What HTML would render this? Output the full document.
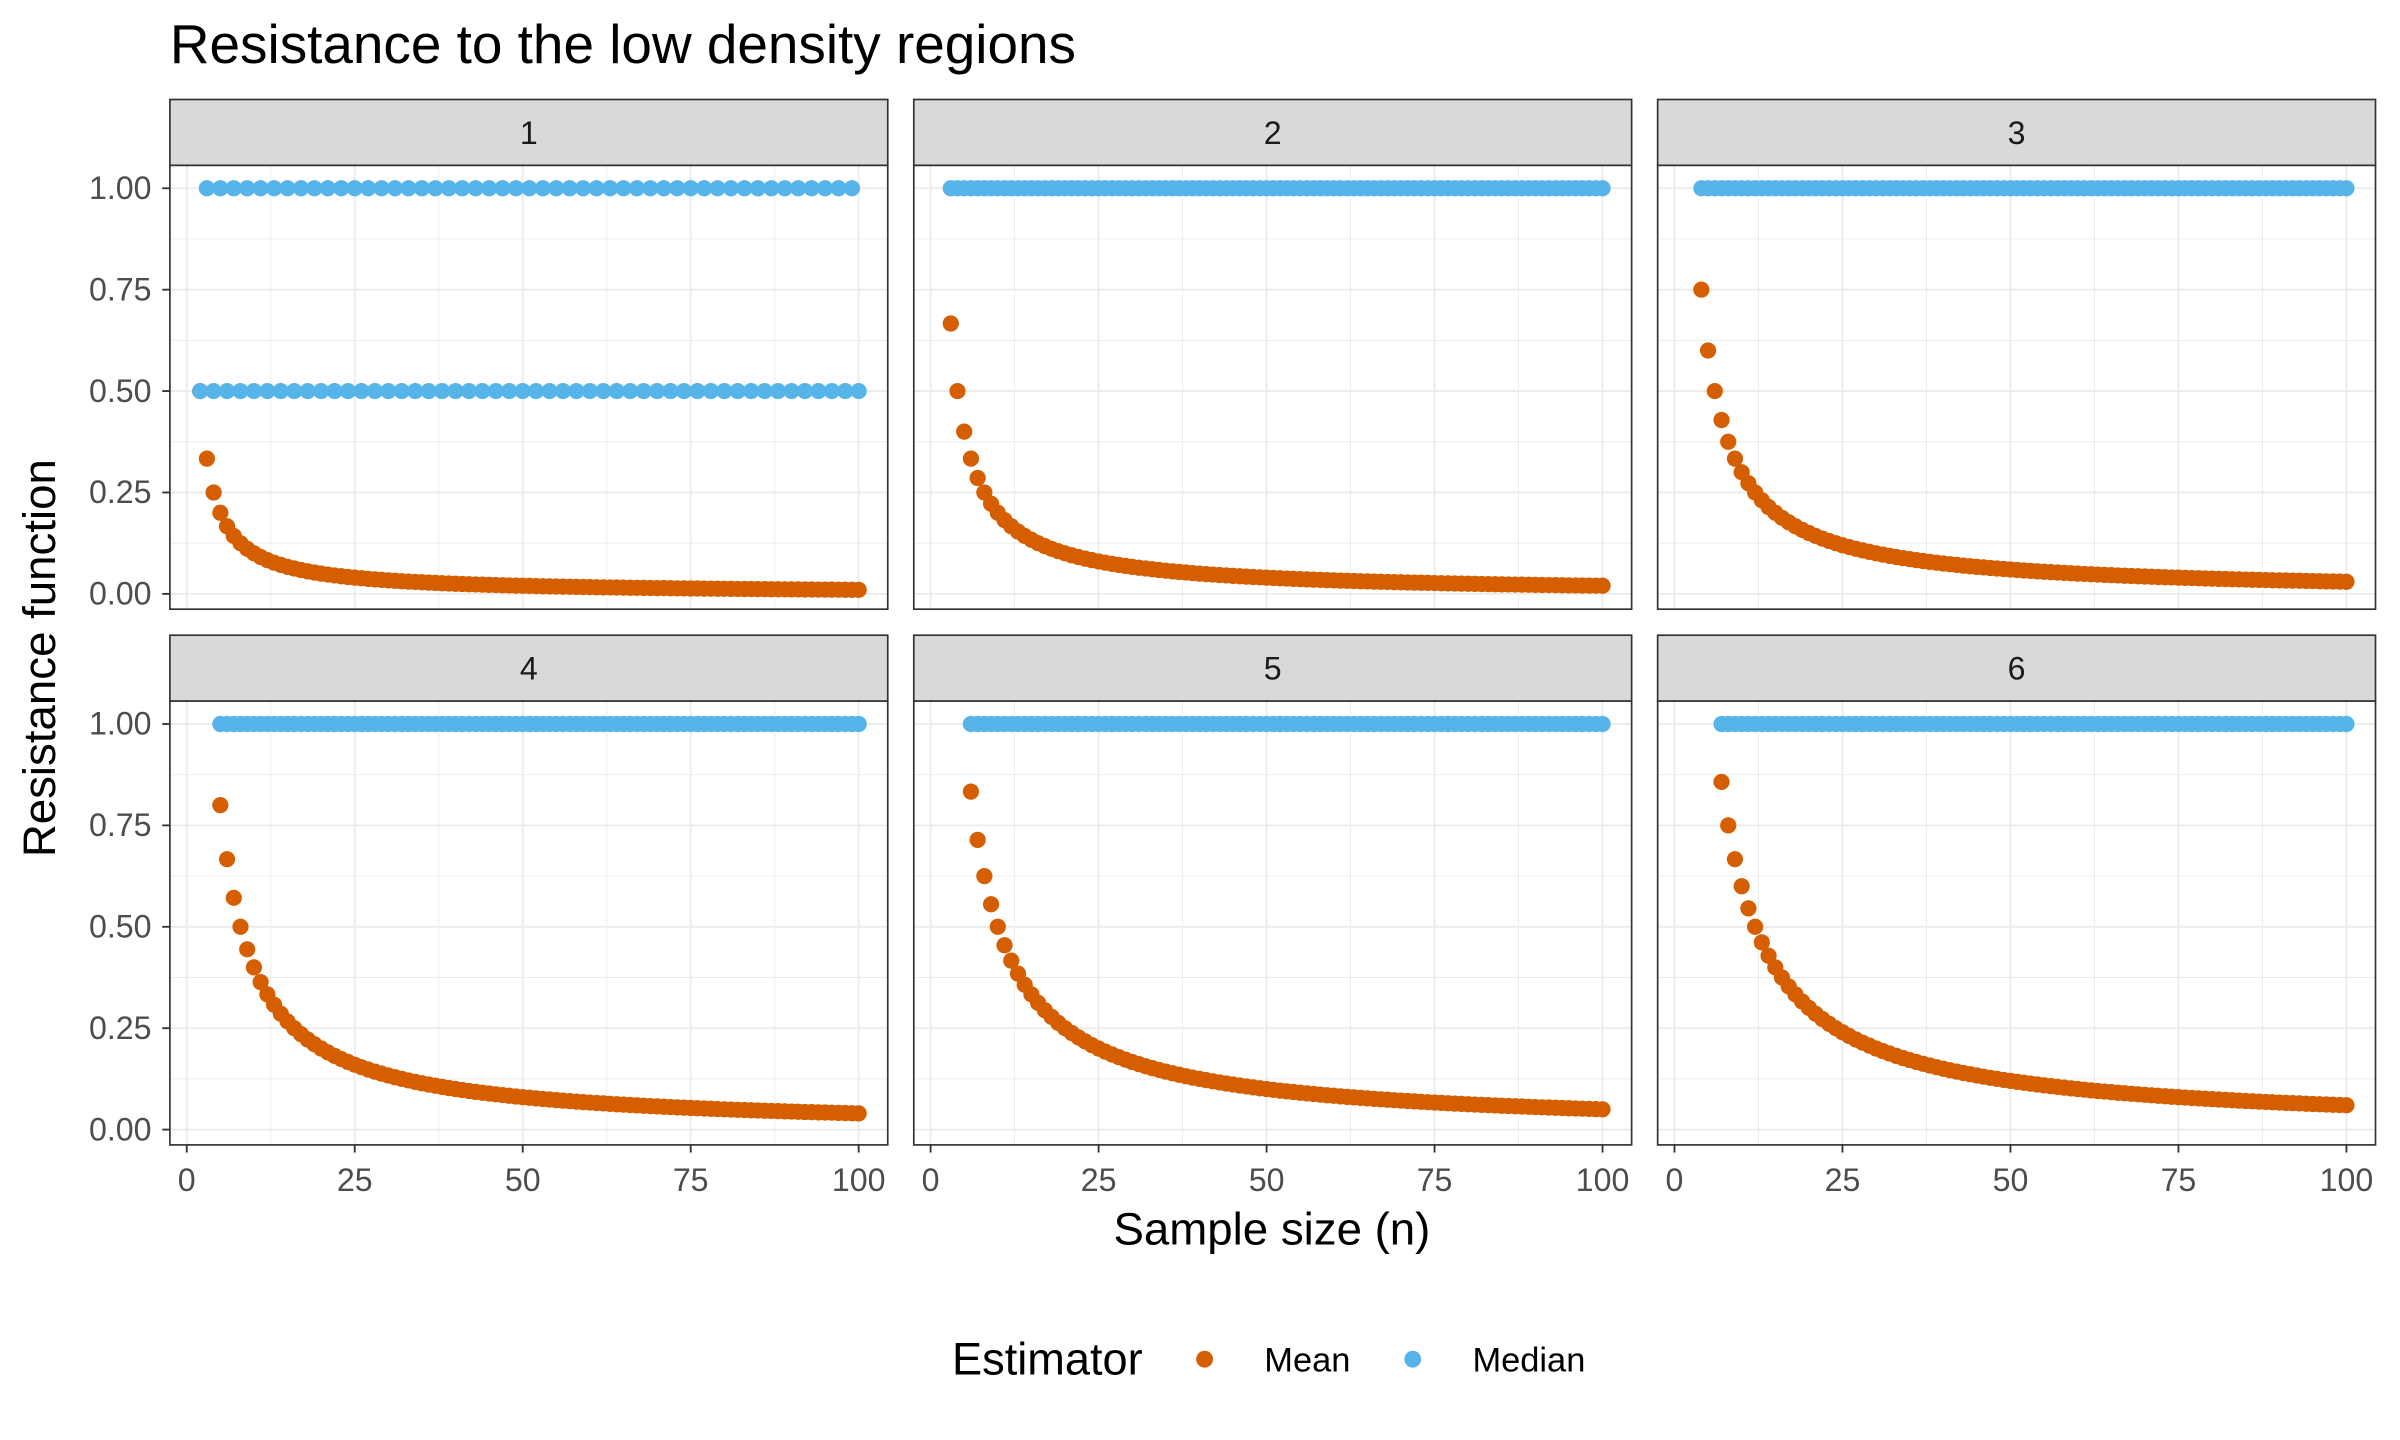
<!DOCTYPE html>
<html><head><meta charset="utf-8"><style>
html,body{margin:0;padding:0;background:#fff;}
svg{display:block;font-family:"Liberation Sans",Arial,sans-serif;}
</style></head><body>
<svg id="chart" width="2400" height="1440" viewBox="0 0 1568 940.8" preserveAspectRatio="none" xmlns="http://www.w3.org/2000/svg">
<rect width="1568" height="941" fill="#fff"/>
<text x="111" y="41" font-size="35.5" textLength="592" lengthAdjust="spacingAndGlyphs" fill="#000">Resistance to the low density regions</text>
<text x="831" y="813" font-size="29.8" text-anchor="middle" fill="#000">Sample size (n)</text>
<text transform="translate(36,430) rotate(-90)" font-size="29.8" text-anchor="middle" fill="#000">Resistance function</text>
<g>
<text x="622" y="898" font-size="29.5" fill="#000">Estimator</text>
<circle cx="787" cy="888" r="5.5" fill="#D55E00"/>
<text x="826" y="896" font-size="22.5" fill="#000">Mean</text>
<circle cx="923" cy="888" r="5.5" fill="#56B4E9"/>
<text x="962" y="896" font-size="22.5" fill="#000">Median</text>
</g>
<g id="panels"></g>
</svg>
<script>
const facetLabels = ["1","2","3","4","5","6"];
const xTicks = [0,25,50,75,100];
const xTickLabels = ["0","25","50","75","100"];
const yTicks = [0,0.25,0.5,0.75,1];
const yTickLabels = ["0.00","0.25","0.50","0.75","1.00"];
const meanStart = [2,3,4,5,6,7];
const meanP1 = [1/2,1/3,1/4,1/5,1/6,1/7,1/8,1/9,1/10,1/11,1/12,1/13,1/14,1/15,1/16,1/17,1/18,1/19,1/20,1/21,1/22,1/23,1/24,1/25,1/26,1/27,1/28,1/29,1/30,1/31,1/32,1/33,1/34,1/35,1/36,1/37,1/38,1/39,1/40,1/41,1/42,1/43,1/44,1/45,1/46,1/47,1/48,1/49,1/50,1/51,1/52,1/53,1/54,1/55,1/56,1/57,1/58,1/59,1/60,1/61,1/62,1/63,1/64,1/65,1/66,1/67,1/68,1/69,1/70,1/71,1/72,1/73,1/74,1/75,1/76,1/77,1/78,1/79,1/80,1/81,1/82,1/83,1/84,1/85,1/86,1/87,1/88,1/89,1/90,1/91,1/92,1/93,1/94,1/95,1/96,1/97,1/98,1/99,1/100];
const meanP2 = [2/3,2/4,2/5,2/6,2/7,2/8,2/9,2/10,2/11,2/12,2/13,2/14,2/15,2/16,2/17,2/18,2/19,2/20,2/21,2/22,2/23,2/24,2/25,2/26,2/27,2/28,2/29,2/30,2/31,2/32,2/33,2/34,2/35,2/36,2/37,2/38,2/39,2/40,2/41,2/42,2/43,2/44,2/45,2/46,2/47,2/48,2/49,2/50,2/51,2/52,2/53,2/54,2/55,2/56,2/57,2/58,2/59,2/60,2/61,2/62,2/63,2/64,2/65,2/66,2/67,2/68,2/69,2/70,2/71,2/72,2/73,2/74,2/75,2/76,2/77,2/78,2/79,2/80,2/81,2/82,2/83,2/84,2/85,2/86,2/87,2/88,2/89,2/90,2/91,2/92,2/93,2/94,2/95,2/96,2/97,2/98,2/99,2/100];
const meanP3 = [3/4,3/5,3/6,3/7,3/8,3/9,3/10,3/11,3/12,3/13,3/14,3/15,3/16,3/17,3/18,3/19,3/20,3/21,3/22,3/23,3/24,3/25,3/26,3/27,3/28,3/29,3/30,3/31,3/32,3/33,3/34,3/35,3/36,3/37,3/38,3/39,3/40,3/41,3/42,3/43,3/44,3/45,3/46,3/47,3/48,3/49,3/50,3/51,3/52,3/53,3/54,3/55,3/56,3/57,3/58,3/59,3/60,3/61,3/62,3/63,3/64,3/65,3/66,3/67,3/68,3/69,3/70,3/71,3/72,3/73,3/74,3/75,3/76,3/77,3/78,3/79,3/80,3/81,3/82,3/83,3/84,3/85,3/86,3/87,3/88,3/89,3/90,3/91,3/92,3/93,3/94,3/95,3/96,3/97,3/98,3/99,3/100];
const meanP4 = [4/5,4/6,4/7,4/8,4/9,4/10,4/11,4/12,4/13,4/14,4/15,4/16,4/17,4/18,4/19,4/20,4/21,4/22,4/23,4/24,4/25,4/26,4/27,4/28,4/29,4/30,4/31,4/32,4/33,4/34,4/35,4/36,4/37,4/38,4/39,4/40,4/41,4/42,4/43,4/44,4/45,4/46,4/47,4/48,4/49,4/50,4/51,4/52,4/53,4/54,4/55,4/56,4/57,4/58,4/59,4/60,4/61,4/62,4/63,4/64,4/65,4/66,4/67,4/68,4/69,4/70,4/71,4/72,4/73,4/74,4/75,4/76,4/77,4/78,4/79,4/80,4/81,4/82,4/83,4/84,4/85,4/86,4/87,4/88,4/89,4/90,4/91,4/92,4/93,4/94,4/95,4/96,4/97,4/98,4/99,4/100];
const meanP5 = [5/6,5/7,5/8,5/9,5/10,5/11,5/12,5/13,5/14,5/15,5/16,5/17,5/18,5/19,5/20,5/21,5/22,5/23,5/24,5/25,5/26,5/27,5/28,5/29,5/30,5/31,5/32,5/33,5/34,5/35,5/36,5/37,5/38,5/39,5/40,5/41,5/42,5/43,5/44,5/45,5/46,5/47,5/48,5/49,5/50,5/51,5/52,5/53,5/54,5/55,5/56,5/57,5/58,5/59,5/60,5/61,5/62,5/63,5/64,5/65,5/66,5/67,5/68,5/69,5/70,5/71,5/72,5/73,5/74,5/75,5/76,5/77,5/78,5/79,5/80,5/81,5/82,5/83,5/84,5/85,5/86,5/87,5/88,5/89,5/90,5/91,5/92,5/93,5/94,5/95,5/96,5/97,5/98,5/99,5/100];
const meanP6 = [6/7,6/8,6/9,6/10,6/11,6/12,6/13,6/14,6/15,6/16,6/17,6/18,6/19,6/20,6/21,6/22,6/23,6/24,6/25,6/26,6/27,6/28,6/29,6/30,6/31,6/32,6/33,6/34,6/35,6/36,6/37,6/38,6/39,6/40,6/41,6/42,6/43,6/44,6/45,6/46,6/47,6/48,6/49,6/50,6/51,6/52,6/53,6/54,6/55,6/56,6/57,6/58,6/59,6/60,6/61,6/62,6/63,6/64,6/65,6/66,6/67,6/68,6/69,6/70,6/71,6/72,6/73,6/74,6/75,6/76,6/77,6/78,6/79,6/80,6/81,6/82,6/83,6/84,6/85,6/86,6/87,6/88,6/89,6/90,6/91,6/92,6/93,6/94,6/95,6/96,6/97,6/98,6/99,6/100];
const medianStart = [2,3,4,5,6,7];
const medianP1 = [0.5,1,0.5,1,0.5,1,0.5,1,0.5,1,0.5,1,0.5,1,0.5,1,0.5,1,0.5,1,0.5,1,0.5,1,0.5,1,0.5,1,0.5,1,0.5,1,0.5,1,0.5,1,0.5,1,0.5,1,0.5,1,0.5,1,0.5,1,0.5,1,0.5,1,0.5,1,0.5,1,0.5,1,0.5,1,0.5,1,0.5,1,0.5,1,0.5,1,0.5,1,0.5,1,0.5,1,0.5,1,0.5,1,0.5,1,0.5,1,0.5,1,0.5,1,0.5,1,0.5,1,0.5,1,0.5,1,0.5,1,0.5,1,0.5,1,0.5];
const medianP2 = [1,1,1,1,1,1,1,1,1,1,1,1,1,1,1,1,1,1,1,1,1,1,1,1,1,1,1,1,1,1,1,1,1,1,1,1,1,1,1,1,1,1,1,1,1,1,1,1,1,1,1,1,1,1,1,1,1,1,1,1,1,1,1,1,1,1,1,1,1,1,1,1,1,1,1,1,1,1,1,1,1,1,1,1,1,1,1,1,1,1,1,1,1,1,1,1,1,1];
const medianP3 = [1,1,1,1,1,1,1,1,1,1,1,1,1,1,1,1,1,1,1,1,1,1,1,1,1,1,1,1,1,1,1,1,1,1,1,1,1,1,1,1,1,1,1,1,1,1,1,1,1,1,1,1,1,1,1,1,1,1,1,1,1,1,1,1,1,1,1,1,1,1,1,1,1,1,1,1,1,1,1,1,1,1,1,1,1,1,1,1,1,1,1,1,1,1,1,1,1];
const medianP4 = [1,1,1,1,1,1,1,1,1,1,1,1,1,1,1,1,1,1,1,1,1,1,1,1,1,1,1,1,1,1,1,1,1,1,1,1,1,1,1,1,1,1,1,1,1,1,1,1,1,1,1,1,1,1,1,1,1,1,1,1,1,1,1,1,1,1,1,1,1,1,1,1,1,1,1,1,1,1,1,1,1,1,1,1,1,1,1,1,1,1,1,1,1,1,1,1];
const medianP5 = [1,1,1,1,1,1,1,1,1,1,1,1,1,1,1,1,1,1,1,1,1,1,1,1,1,1,1,1,1,1,1,1,1,1,1,1,1,1,1,1,1,1,1,1,1,1,1,1,1,1,1,1,1,1,1,1,1,1,1,1,1,1,1,1,1,1,1,1,1,1,1,1,1,1,1,1,1,1,1,1,1,1,1,1,1,1,1,1,1,1,1,1,1,1,1];
const medianP6 = [1,1,1,1,1,1,1,1,1,1,1,1,1,1,1,1,1,1,1,1,1,1,1,1,1,1,1,1,1,1,1,1,1,1,1,1,1,1,1,1,1,1,1,1,1,1,1,1,1,1,1,1,1,1,1,1,1,1,1,1,1,1,1,1,1,1,1,1,1,1,1,1,1,1,1,1,1,1,1,1,1,1,1,1,1,1,1,1,1,1,1,1,1,1];
const meanSeries = [meanP1,meanP2,meanP3,meanP4,meanP5,meanP6];
const medianSeries = [medianP1,medianP2,medianP3,medianP4,medianP5,medianP6];

const NS = "http://www.w3.org/2000/svg";
const root = document.getElementById("panels");
function mk(tag, attrs, parent){const e=document.createElementNS(NS,tag);for(const k in attrs)e.setAttribute(k,attrs[k]);parent.appendChild(e);return e;}
const colX = [111,597,1083], PW = 469;
const rowY = [65,415], SH = 43, PH = 290;
for(let p=0;p<6;p++){
  const col=p%3,row=Math.floor(p/3);
  const L=colX[col], T=rowY[row]+SH;
  const xs=v=>L+11+v*4.39;
  const ys=v=>T+280-v*265;
  const g=mk("g",{},root);
  
  
  const bg=mk("rect",{x:L,y:T,width:PW,height:PH,fill:"#fff"},g);
  
  
  for(let i=0;i<4;i++){
    const v=xTicks[i]+12.5;
    const l=mk("line",{x1:xs(v),x2:xs(v),y1:T,y2:T+PH,stroke:"#ebebeb","stroke-width":0.6},g);
    
    
    const vy=yTicks[i]+0.125;
    const m=mk("line",{x1:L,x2:L+PW,y1:ys(vy),y2:ys(vy),stroke:"#ebebeb","stroke-width":0.6},g);
    
    
  }
  xTicks.forEach(v=>{
    const l=mk("line",{x1:xs(v),x2:xs(v),y1:T,y2:T+PH,stroke:"#ebebeb","stroke-width":1.2},g);
    
    
  });
  yTicks.forEach(v=>{
    const l=mk("line",{x1:L,x2:L+PW,y1:ys(v),y2:ys(v),stroke:"#ebebeb","stroke-width":1.2},g);
    
    
  });
  meanSeries[p].forEach((v,i)=>{
    const c=mk("circle",{cx:xs(meanStart[p]+i),cy:ys(v),r:5.3,fill:"#D55E00"},g);
    
    
  });
  medianSeries[p].forEach((v,i)=>{
    const c=mk("circle",{cx:xs(medianStart[p]+i),cy:ys(v),r:5.3,fill:"#56B4E9"},g);
    
    
  });
  const bd=mk("rect",{x:L,y:T,width:PW,height:PH,fill:"none",stroke:"#333","stroke-width":1.1},g);
  
  
  const st=mk("rect",{x:L,y:rowY[row],width:PW,height:SH,fill:"#d9d9d9",stroke:"#333","stroke-width":1.1},g);
  
  
  const stt=mk("text",{x:L+PW/2,y:rowY[row]+29,"font-size":21,"text-anchor":"middle",fill:"#1a1a1a"},g);
  stt.textContent=facetLabels[p];
  
  
  if(col===0){
    yTicks.forEach((v,i)=>{
      const tk=mk("line",{x1:L-5,x2:L,y1:ys(v),y2:ys(v),stroke:"#333","stroke-width":1.2},g);
      
      
      const tl=mk("text",{x:L-12,y:ys(v)+7,"font-size":21,"text-anchor":"end",fill:"#4d4d4d"},g);
      tl.textContent=yTickLabels[i];
      
      
    });
  }
  if(row===1){
    xTicks.forEach((v,i)=>{
      const tk=mk("line",{x1:xs(v),x2:xs(v),y1:T+PH,y2:T+PH+5,stroke:"#333","stroke-width":1.2},g);
      
      
      const tl=mk("text",{x:xs(v),y:T+PH+30,"font-size":21,"text-anchor":"middle",fill:"#4d4d4d"},g);
      tl.textContent=xTickLabels[i];
      
      
    });
  }
}
</script>
</body></html>
